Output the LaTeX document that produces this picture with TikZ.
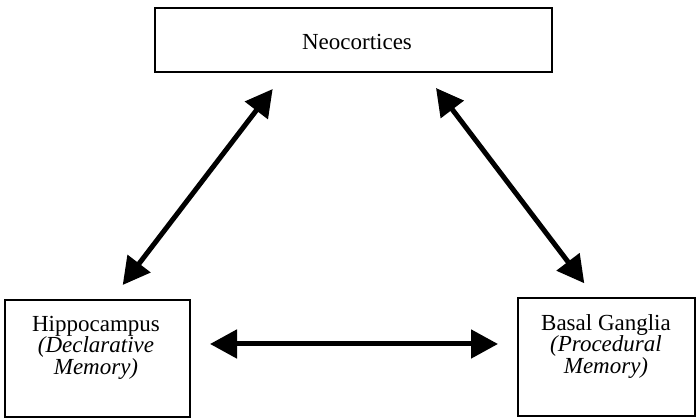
\documentclass[tikz,border=0pt]{standalone}
\usepackage{fontspec}
\setmainfont{Liberation Serif}
\usetikzlibrary{arrows.meta}
\begin{document}
\begin{tikzpicture}[x=1pt,y=1pt,
  box/.style={draw=black, line width=2.6pt, rectangle, inner sep=0pt},
  lbl/.style={font=\fontsize{23}{21.5}\selectfont, align=center, inner sep=0pt},
  bi/.style={line width=5pt, {Triangle[length=27pt,width=28pt]}-{Triangle[length=27pt,width=28pt]}}]
\useasboundingbox (0,0) rectangle (697,419);
% boxes
\node[box, minimum width=397pt, minimum height=64pt] (neo) at (353.5,379) {};
\node[box, minimum width=185pt, minimum height=117pt] (hip) at (97.5,60.5) {};
\node[box, minimum width=177pt, minimum height=118pt] (bg) at (606.5,62) {};
% labels
\node[lbl, anchor=base] (neot) at (357,369) {Neocortices};
\node[lbl, anchor=north] (hipt) at (96,103) {Hippocampus\\\textit{(Declarative}\\\textit{Memory)}};
\node[lbl, anchor=north] (bgt) at (606,105) {Basal Ganglia\\\textit{(Procedural}\\\textit{Memory)}};
% arrow end points
\coordinate (a1) at (272.7,330);
\coordinate (a2) at (122.7,134);
\coordinate (b1) at (436,331);
\coordinate (b2) at (584.3,135.7);
\coordinate (c1) at (210,75);
\coordinate (c2) at (498,75);
\draw[bi] (a2) -- (a1);
\draw[bi] (b1) -- (b2);
\draw[bi] (c1) -- (c2);
\end{tikzpicture}
\end{document}
